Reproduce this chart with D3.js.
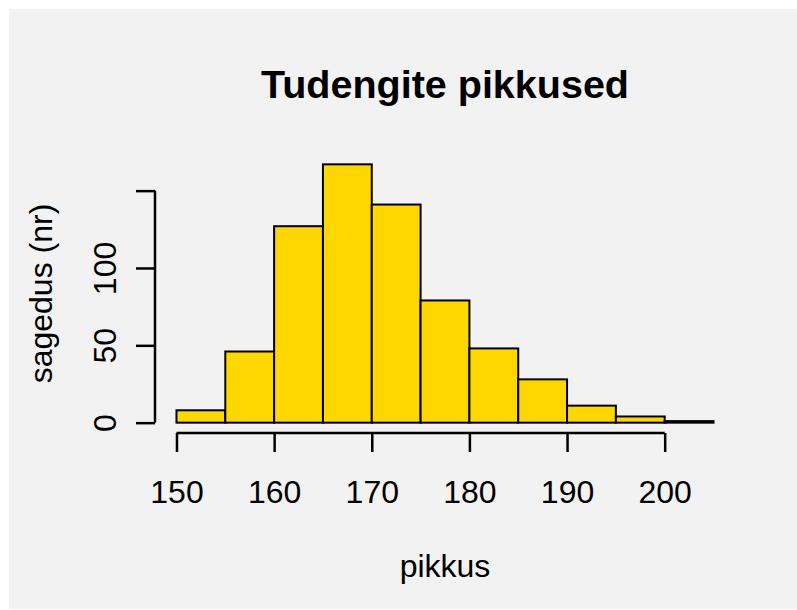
<!DOCTYPE html>
<html>
<head>
<meta charset="utf-8">
<script src="https://cdn.jsdelivr.net/npm/d3@7"></script>
<style>
  body { margin: 0; background: #ffffff; }
  text { font-family: "Liberation Sans", Arial, sans-serif; fill: #000; }
</style>
</head>
<body>
<div id="chart"></div>
<script>
// histogram bins (5 cm wide) and counts
var binStarts = [150, 155, 160, 165, 170, 175, 180, 185, 190, 195, 200];
var binWidth = 5;
var counts = [8, 46, 127, 167, 141, 79, 48, 28, 11, 4, 1];
var xTicks = [150, 160, 170, 180, 190, 200];
var yTicks = [0, 50, 100, 150];
var yLabels = ["0", "50", "100", ""];

var W = 797, H = 610;

var svg = d3.select("#chart")
  .append("svg")
    .attr("width", W)
    .attr("height", H);

// grey panel
svg.append("rect")
  .attr("x", 9).attr("y", 9)
  .attr("width", W - 9).attr("height", H - 10)
  .attr("fill", "#f2f2f2");

// plot region like R: 4% padding around data range
var xmin = 150, xmax = 205, ymax = d3.max(counts);
var xpad = (xmax - xmin) * 0.04, ypad = ymax * 0.04;

var x = d3.scaleLinear()
  .domain([xmin - xpad, xmax + xpad])
  .range([155, 735]);

var y = d3.scaleLinear()
  .domain([-ypad, ymax + ypad])
  .range([433, 154]);

// bars
svg.append("g")
  .selectAll("rect")
  .data(counts)
  .enter()
  .append("rect")
    .attr("x", function(d, i) { return x(binStarts[i]); })
    .attr("y", function(d) { return y(d); })
    .attr("width", function(d, i) { return x(binStarts[i] + binWidth) - x(binStarts[i]); })
    .attr("height", function(d) { return y(0) - y(d); })
    .attr("fill", "#ffd700")
    .attr("stroke", "#000")
    .attr("stroke-width", 2);

// x axis
var gx = svg.append("g")
  .attr("transform", "translate(0," + y.range()[0] + ")")
  .call(d3.axisBottom(x).tickValues(xTicks).tickSize(19).tickPadding(28));
gx.select(".domain").remove();
gx.selectAll(".tick line").attr("stroke", "#000").attr("stroke-width", 2.5);
gx.selectAll(".tick text")
  .attr("font-size", 32)
  .attr("font-family", "Liberation Sans, Arial, sans-serif");
gx.append("line")
  .attr("x1", x(xTicks[0])).attr("x2", x(xTicks[xTicks.length - 1]))
  .attr("stroke", "#000").attr("stroke-width", 2.5);

// y axis
var gy = svg.append("g")
  .attr("transform", "translate(" + x.range()[0] + ",0)")
  .call(d3.axisLeft(y).tickValues(yTicks).tickSize(19).tickFormat(function(d, i) { return yLabels[i]; }));
gy.select(".domain").remove();
gy.selectAll(".tick line").attr("stroke", "#000").attr("stroke-width", 2.5);
gy.selectAll(".tick text")
  .attr("font-size", 32)
  .attr("font-family", "Liberation Sans, Arial, sans-serif")
  .attr("text-anchor", "middle")
  .attr("dy", null)
  .attr("x", null)
  .attr("transform", "translate(-39,0) rotate(-90)");
gy.append("line")
  .attr("y1", y(yTicks[0])).attr("y2", y(yTicks[yTicks.length - 1]))
  .attr("stroke", "#000").attr("stroke-width", 2.5);

// title
svg.append("text")
  .attr("x", (x.range()[0] + x.range()[1]) / 2)
  .attr("y", 98)
  .attr("text-anchor", "middle")
  .attr("font-size", 39.5)
  .attr("font-weight", "bold")
  .text("Tudengite pikkused");

// x label
svg.append("text")
  .attr("x", (x.range()[0] + x.range()[1]) / 2)
  .attr("y", 577)
  .attr("text-anchor", "middle")
  .attr("font-size", 32)
  .text("pikkus");

// y label
svg.append("text")
  .attr("transform", "translate(52," + (y.range()[0] + y.range()[1]) / 2 + ") rotate(-90)")
  .attr("text-anchor", "middle")
  .attr("font-size", 32)
  .text("sagedus (nr)");
</script>
</body>
</html>
